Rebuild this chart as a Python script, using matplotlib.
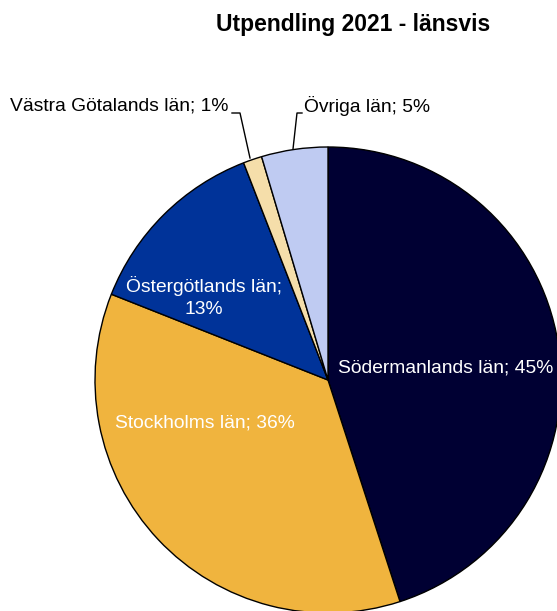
import matplotlib.pyplot as plt

plt.rcParams['font.family'] = ['Liberation Sans', 'DejaVu Sans']

# andel utpendlare per län (%), medurs från kl 12
regions = ['Södermanlands län', 'Stockholms län', 'Östergötlands län',
           'Västra Götalands län', 'Övriga län']
shares = [45.0, 36.0, 13.1, 1.3, 4.6]
colors = ['#000033', '#F0B43E', '#003399', '#F5DEAA', '#BFCBF2']

fig = plt.figure(figsize=(5.57, 6.11), dpi=100)
ax = fig.add_axes([0, 0, 1, 1])

R = 233
wedges, _ = ax.pie(shares, colors=colors, startangle=90, counterclock=False,
                   radius=R, center=(0, 0),
                   wedgeprops=dict(edgecolor='black', linewidth=1.0))

# axes in pixel units, centre of the pie at (328, 380)
ax.set_xlim(-328, 557 - 328)
ax.set_ylim(380 - 611, 380)
ax.set_aspect('equal')
ax.axis('off')

lbl = [f'{r}; {round(s):.0f}%' for r, s in zip(regions, shares)]
fs = 13.9

ax.text(446 - 328, 380 - 368, lbl[0], color='white', fontsize=fs,
        ha='center', va='center')
ax.text(205 - 328, 380 - 423, lbl[1], color='white', fontsize=fs,
        ha='center', va='center')
ax.text(204 - 328, 380 - 297, lbl[2].replace('; ', ';\n'), color='white',
        fontsize=fs, ha='center', va='center', linespacing=1.35)

# leader labels for the small slices
ax.text(229 - 328, 380 - 106, lbl[3], color='black', fontsize=fs,
        ha='right', va='center')
ax.plot([232 - 328, 240 - 328, 250 - 328], [380 - 113, 380 - 113, 380 - 158],
        color='black', lw=1.0)
ax.text(304 - 328, 380 - 106, lbl[4], color='black', fontsize=fs,
        ha='left', va='center')
ax.plot([302 - 328, 297 - 328, 293 - 328], [380 - 113, 380 - 113, 380 - 149],
        color='black', lw=1.0)

fig.text(353 / 557, 1 - 25 / 611, 'Utpendling 2021 - länsvis', fontsize=16.5,
         fontweight='bold', ha='center', va='center')

fig.savefig('out.png', dpi=100)
